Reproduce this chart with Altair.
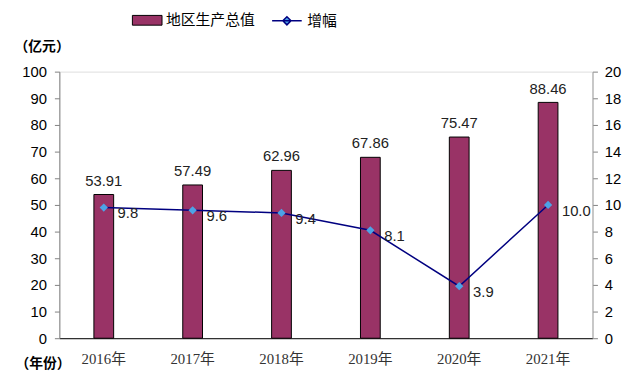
import altair as alt
import pandas as pd

years = ["2016年", "2017年", "2018年", "2019年", "2020年", "2021年"]
gdp = [53.91, 57.49, 62.96, 67.86, 75.47, 88.46]
growth = [9.8, 9.6, 9.4, 8.1, 3.9, 10.0]
left_ticks = [0, 10, 20, 30, 40, 50, 60, 70, 80, 90, 100]
right_ticks = [0, 2, 4, 6, 8, 10, 12, 14, 16, 18, 20]
series_bar = "地区生产总值"
series_line = "增幅"

df = pd.DataFrame({"year": years, "gdp": gdp, "growth": growth,
                   "s1": series_bar, "s2": series_line})

SANS = "Liberation Sans, Noto Sans CJK SC"
SERIF = "Liberation Serif, Noto Sans CJK SC"
BAR = "#993366"
NAVY = "#000080"
DIAMOND = "#4DA3E6"

x = alt.X("year:N", sort=years,
          scale=alt.Scale(paddingInner=0, paddingOuter=0),
          axis=alt.Axis(title="（年份）", labelAngle=0, ticks=False, labelPadding=14,
                        labelFont=SERIF, labelFontSize=15, labelColor="#333333",
                        domainColor="#000000", domainWidth=1,
                        titleFont="Noto Sans CJK SC", titleFontSize=14, titleFontWeight="bold",
                        titleX=-17, titleY=26, titleAlign="center", titleBaseline="middle",
                        titleAngle=0, titleColor="#000000"))

yl = alt.Y("gdp:Q", scale=alt.Scale(domain=[0, 100], nice=False),
           axis=alt.Axis(title="（亿元）", values=left_ticks, orient="left", grid=False,
                         tickSize=5, labelPadding=8, labelFont=SANS, labelFontSize=15,
                         labelColor="#000000", domainColor="#808080", tickColor="#808080",
                         titleFont="Noto Sans CJK SC", titleFontSize=14, titleFontWeight="bold",
                         titleAngle=0, titleX=-18, titleY=-25, titleAlign="center",
                         titleBaseline="middle", titleColor="#000000"))

yr = alt.Y("growth:Q", scale=alt.Scale(domain=[0, 20], nice=False),
           axis=alt.Axis(title=None, values=right_ticks, orient="right", grid=False,
                         tickSize=5, labelPadding=7, labelFont=SANS, labelFontSize=15,
                         labelColor="#000000", domainColor="#A0A0A0", tickColor="#808080"))

bars = alt.Chart(df).mark_bar(size=20, stroke="#000000", strokeWidth=1).encode(
    x=x, y=yl,
    fill=alt.Fill("s1:N", scale=alt.Scale(range=[BAR]),
                  legend=alt.Legend(title=None, orient="none", legendX=81, legendY=-60,
                                    symbolType="M-2,-0.66H2V0.66H-2Z", symbolSize=225,
                                    symbolStrokeColor="#000000", symbolStrokeWidth=1,
                                    labelFont="Noto Sans CJK SC", labelFontSize=15,
                                    labelColor="#000000", labelOffset=11, padding=0)))

bar_text = alt.Chart(df).mark_text(baseline="alphabetic", dy=-9, font=SANS,
                                   fontSize=15, color="#222222").encode(
    x=x, y=yl, text=alt.Text("gdp:Q", format=".2f"))

line = alt.Chart(df).mark_line(strokeWidth=1.5).encode(
    x=x, y=yr,
    stroke=alt.Stroke("s2:N", scale=alt.Scale(range=[NAVY]),
                      legend=alt.Legend(title=None, orient="none", legendX=222, legendY=-60,
                                        symbolType="M-2,0H2M0,-0.55L0.55,0L0,0.55L-0.55,0Z",
                                        symbolSize=225, symbolFillColor=DIAMOND,
                                        symbolStrokeWidth=1.5,
                                        labelFont="Noto Sans CJK SC", labelFontSize=15,
                                        labelColor="#000000", labelOffset=12, padding=0)))

points = alt.Chart(df).mark_point(shape="diamond", filled=True, size=70,
                                  color=DIAMOND, opacity=1).encode(x=x, y=yr)

line_text = alt.Chart(df).mark_text(align="left", baseline="middle", dx=14, dy=6,
                                    font=SANS, fontSize=15, color="#222222").encode(
    x=x, y=yr, text=alt.Text("growth:Q", format=".1f"))

chart = alt.layer(
    alt.layer(bars, bar_text),
    alt.layer(line, points, line_text),
).resolve_scale(y="independent").properties(
    width=540, height=270,
    autosize=alt.AutoSizeParams(type="none"),
    padding={"left": 52, "top": 62, "right": 40, "bottom": 51},
).configure_view(fill="#C0C0C0", strokeWidth=0).configure(background="#FFFFFF")

chart.save("out.html", embed_options={"renderer": "svg", "actions": False})
